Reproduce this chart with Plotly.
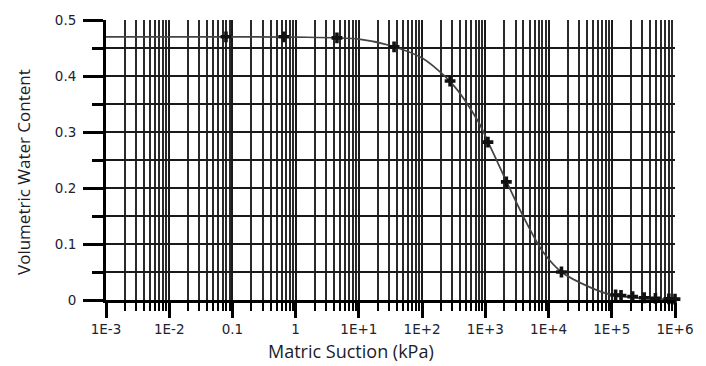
import plotly.graph_objects as go

# Measured soil-water characteristic points
suction_kpa = [0.079, 0.65, 4.5, 36, 277, 1100, 2150, 16000,
               115000, 140000, 214000, 326000, 490000, 800000, 1000000]
theta = [0.470, 0.470, 0.468, 0.452, 0.391, 0.282, 0.211, 0.050,
         0.009, 0.008, 0.006, 0.004, 0.003, 0.002, 0.0015]

# Fitted curve samples
curve_suction = [1e-3, 1e-2, 0.1, 1, 10, 30, 100, 300, 760, 1100, 2150,
                 4070, 7940, 16000, 44700, 93300, 316000, 1e6]
curve_theta = [0.470, 0.470, 0.470, 0.4695, 0.466, 0.455, 0.432, 0.386,
               0.320, 0.283, 0.212, 0.147, 0.088, 0.050, 0.023, 0.010,
               0.003, 0.001]

x_tick_vals = [1e-3, 1e-2, 0.1, 1, 10, 100, 1e3, 1e4, 1e5, 1e6]
x_tick_text = ["1E-3", "1E-2", "0.1", "1", "1E+1", "1E+2", "1E+3",
               "1E+4", "1E+5", "1E+6"]
y_tick_vals = [0, 0.1, 0.2, 0.3, 0.4, 0.5]
y_tick_text = ["0", "0.1", "0.2", "0.3", "0.4", "0.5"]

x_minor_vals = [m * 10.0 ** e for e in range(-3, 6) for m in range(2, 10)]
y_minor_vals = [0.05, 0.15, 0.25, 0.35, 0.45]

fig = go.Figure()
fig.add_trace(go.Scatter(
    x=curve_suction, y=curve_theta, mode="lines",
    line=dict(color="#444444", width=1.7, shape="spline", smoothing=0.8),
    hoverinfo="skip", cliponaxis=False))
fig.add_trace(go.Scatter(
    x=suction_kpa, y=theta, mode="markers",
    marker=dict(symbol="cross", size=9, color="#111111"),
    cliponaxis=False))

tick_font = dict(family="DejaVu Sans", size=13.5, color="#22222e")
grid_color = "#1a1a1a"

fig.update_xaxes(
    type="log", range=[-3, 6],
    tickmode="array", tickvals=x_tick_vals, ticktext=x_tick_text,
    tickfont=tick_font,
    showline=True, linecolor="#000000", linewidth=3,
    ticks="outside", ticklen=15, tickwidth=3, tickcolor="#000000",
    showgrid=True, gridcolor=grid_color, gridwidth=1.6,
    zeroline=False,
    minor=dict(tickmode="array", tickvals=x_minor_vals,
               ticks="outside", ticklen=8, tickwidth=2, tickcolor="#000000",
               showgrid=True, gridcolor="#2a2a2a", gridwidth=1.5),
)
fig.update_yaxes(
    range=[0, 0.5],
    tickmode="array", tickvals=y_tick_vals, ticktext=y_tick_text,
    tickfont=tick_font,
    showline=True, linecolor="#000000", linewidth=3,
    ticks="outside", ticklen=20, tickwidth=3, tickcolor="#000000",
    showgrid=True, gridcolor=grid_color, gridwidth=1.6,
    zeroline=False, ticklabelstandoff=4,
    minor=dict(tickmode="array", tickvals=y_minor_vals,
               ticks="outside", ticklen=11, tickwidth=3, tickcolor="#000000",
               showgrid=True, gridcolor=grid_color, gridwidth=1.6),
)

title_font = dict(family="Open Sans", size=18, color="#1c1c28")
fig.add_annotation(text="Matric Suction (kPa)", xref="paper", yref="paper",
                   x=(354 - 106) / 577, y=-(352 - 300) / 284,
                   showarrow=False, font=title_font,
                   xanchor="center", yanchor="middle")
fig.add_annotation(text="Volumetric Water Content", xref="paper", yref="paper",
                   x=-(106 - 23) / 577, y=(300 - 170) / 284,
                   showarrow=False, font=dict(family="Open Sans", size=17,
                                              color="#1c1c28"),
                   textangle=-90, xanchor="center", yanchor="middle")

fig.update_layout(
    width=706, height=366,
    margin=dict(l=106, r=23, t=16, b=66),
    paper_bgcolor="white", plot_bgcolor="white",
    showlegend=False,
)

fig.write_html("out.html")
